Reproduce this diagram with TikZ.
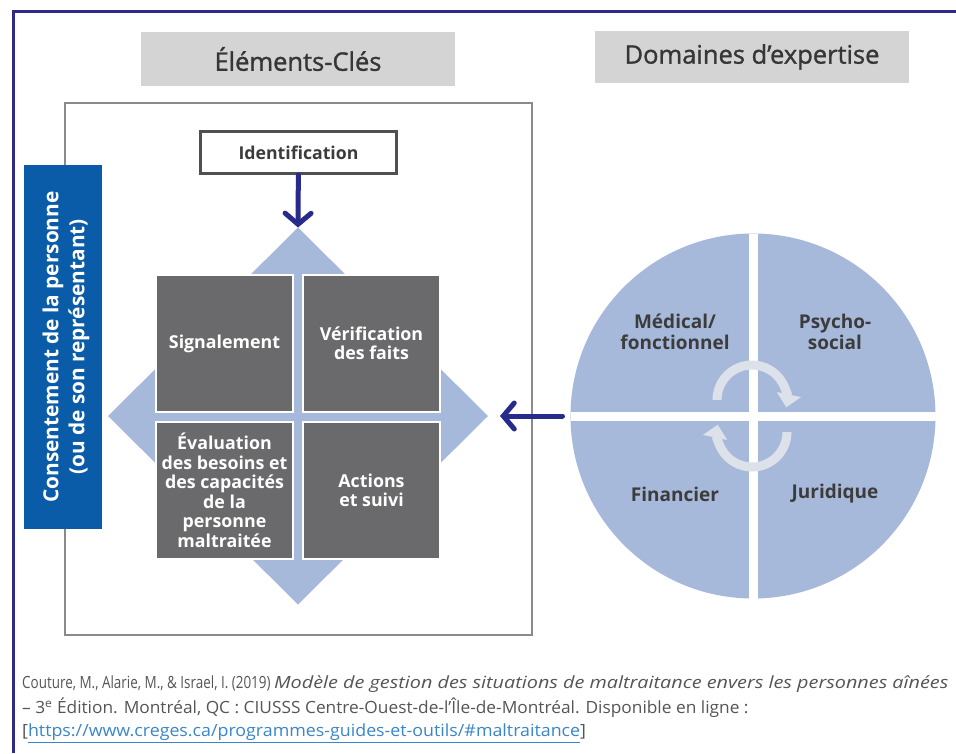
\documentclass[tikz,border=0pt]{standalone}
\usepackage{fontspec}
\setmainfont{Open Sans}
\newfontfamily\titelschrift[FakeBold=1.2]{Open Sans}
\newfontfamily\quellschmal[FakeStretch=0.8]{Open Sans}
\newfontfamily\quellmittel[FakeStretch=1.03]{Open Sans}
\newfontfamily\quellbreit[FakeStretch=1.18]{Open Sans}
\newfontfamily\quelllink[FakeStretch=1.06]{Open Sans}
\usepackage{tikz}
\usetikzlibrary{arrows.meta,shapes.geometric,positioning}

\definecolor{rahmen}{HTML}{2E2A88}
\definecolor{pfeilblau}{HTML}{262B8C}
\definecolor{hellblau}{HTML}{A7B9DA}
\definecolor{feldgrau}{HTML}{6A6A6C}
\definecolor{titelgrau}{HTML}{D4D4D4}
\definecolor{rahmengrau}{HTML}{8A8A8A}
\definecolor{konsensblau}{HTML}{0B5CA8}
\definecolor{textgrau}{HTML}{3C3C3C}
\definecolor{quellgrau}{HTML}{555555}
\definecolor{linkblau}{HTML}{3A86C8}
\definecolor{kreislicht}{HTML}{DCE1EA}

\tikzset{
	titel/.style={fill=titelgrau, minimum width=314pt, minimum height=54pt, text=textgrau!90!black, font=\titelschrift\fontsize{25.5}{30}\selectfont},
	feld/.style={fill=feldgrau, draw=white, line width=1.5pt, minimum size=137pt, inner sep=0pt, outer sep=0pt, align=center, text=white, font=\bfseries\fontsize{17.8}{19.5}\selectfont},
	bereich/.style={align=center, text=textgrau, font=\bfseries\fontsize{19}{20.5}\selectfont},
	pfeil/.style={draw=pfeilblau, line width=5pt, line cap=round, -{Straight Barb[length=11pt,width=26pt,line cap=round]}},
	kreislauf/.style={draw=kreislicht, line width=9pt, -{Triangle[length=13pt,width=24pt]}},
	quelle/.style={anchor=west, inner sep=0pt, text=quellgrau, font=\quellschmal\fontsize{16.8}{20}\selectfont}
}

\begin{document}
\begin{tikzpicture}[x=1pt,y=-1pt]
		\useasboundingbox[fill=white] (0,0) rectangle (956,753);
		%Rahmen oben und links
		\draw[rahmen, line width=3pt] (13,753) -- (13,11) -- (956,11);
		
		%Überschriften
		\node[titel] (elemente) at (298,59) {Éléments-Clés};
		\node[titel, minimum height=52pt] (domaines) at (752,57) {Domaines d’expertise};
		
		\draw[rahmengrau, line width=2pt] (65,103) rectangle (532,635);
		\node[fill=konsensblau, minimum width=78pt, minimum height=364pt] (konsens) at (63,347) {};
		\node[rotate=90, align=center, text=white, font=\bfseries\fontsize{20.8}{26}\selectfont] (konsenstext) at (66,347) {Consentement de la personne\\(ou de son représentant)};
		
		%Raute mit den vier Feldern
		\node[diamond, fill=hellblau, inner sep=0pt, outer sep=0pt, minimum width=380pt, minimum height=377pt] (raute) at (298,416) {};
		\node[feld] (signal) at (224.5,343.5) {Signalement};
		\node[feld, right=10pt of signal] (verif) {Vérification\\des faits};
		\node[feld, below=10pt of signal] (eval) {Évaluation\\des besoins et\\des capacités\\de la\\personne\\maltraitée};
		\node[feld, below=10pt of verif] (suivi) {Actions\\et suivi};
		
		\node[draw=textgrau!90, line width=3pt, fill=white, minimum width=196pt, minimum height=42pt, text=textgrau, font=\bfseries\fontsize{17.7}{20}\selectfont] (ident) at (298.5,152.5) {Identification};
		\draw[pfeil] (ident) -- (raute.north);
		
		%Kreis der Fachbereiche
		\node[circle, fill=hellblau, inner sep=0pt, outer sep=0pt, minimum size=365pt] (kreis) at (753,416) {};
		\draw[white, line width=9pt] (kreis.north) -- (kreis.south);
		\draw[white, line width=9pt] (kreis.west) -- (kreis.east);
		\node[bereich] (medical) at (675,332) {Médical/\\fonctionnel};
		\node[bereich] (psycho) at (835,332) {Psycho-\\social};
		\node[bereich] (finance) at (675,494) {Financier};
		\node[bereich] (juridique) at (835,494) {Juridique};
		\draw[kreislauf] (717,400) arc[start angle=180, end angle=372, radius=35];
		\draw[kreislauf] (787,432) arc[start angle=0, end angle=192, radius=35];
		\draw[pfeil, shorten <=8pt, shorten >=12pt] (kreis.west) -- (raute.east);
		
		%Quellenangabe
		\node[quelle] (zeile1) at (22,684) {Couture, M., Alarie, M., \& Israel, I. (2019) {\quellbreit\itshape Modèle de gestion des situations de maltraitance envers les personnes aînées}};
		\node[quelle, font=\quellmittel\fontsize{16.8}{20}\selectfont] (zeile2) at (22,708) {– 3\textsuperscript{e} Édition. Montréal, QC : CIUSSS Centre-Ouest-de-l’Île-de-Montréal. Disponible en ligne :};
		\node[quelle, font=\quelllink\fontsize{16.8}{20}\selectfont] (zeile3) at (22,733) {[\textcolor{linkblau}{\underline{https://www.creges.ca/programmes-guides-et-outils/\#maltraitance}}]};
		
\end{tikzpicture}
\end{document}
